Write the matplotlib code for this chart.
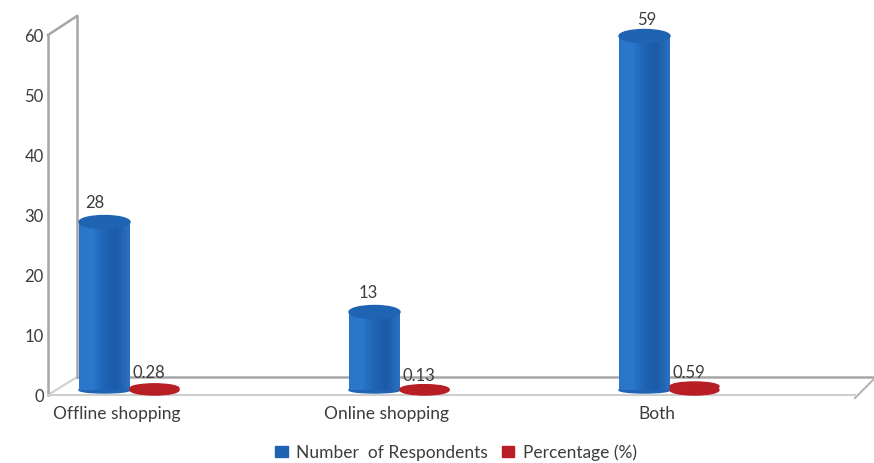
import numpy as np
import matplotlib
matplotlib.use('Agg')
import matplotlib.pyplot as plt
from matplotlib.lines import Line2D
from matplotlib.patches import Ellipse, Patch
from matplotlib.colors import LinearSegmentedColormap

plt.rcParams['font.family'] = ['Lato', 'DejaVu Sans']

categories = ['Offline shopping', 'Online shopping', 'Both']
respondents = [28, 13, 59]
percentage = [0.28, 0.13, 0.59]
respondents_label = 'Number  of Respondents'
percentage_label = 'Percentage (%)'
yticks = [0, 10, 20, 30, 40, 50, 60]

W, H = 874, 464
blue_map = LinearSegmentedColormap.from_list('b', ['#2b74c6', '#2a78cc', '#1f64b4', '#1b5aa6', '#2a70c0'])
red_map = LinearSegmentedColormap.from_list('r', ['#b8252a', '#c62026', '#a81a20', '#b8252a'])
TEXT = '#3c3c3c'
GRID = '#a6a6a6'
FLOOR = '#cfcfcf'

fig = plt.figure(figsize=(W/100, H/100), dpi=100, facecolor='white')
# front plane of the 3d box, 48..855 px across and 396..36 px down
ax = fig.add_axes([48/W, 1-396/H, (855-48)/W, 360/H])
ax.set_ylim(0, 60)
ax.set_xlim((48-117)/270, (855-117)/270)
ax.patch.set_alpha(0)
for s in ['top', 'right']:
	ax.spines[s].set_visible(False)
ax.spines['left'].set_color(GRID)
ax.spines['left'].set_linewidth(1.8)
ax.spines['bottom'].set_color(FLOOR)
ax.spines['bottom'].set_linewidth(1.5)
ax.set_yticks(yticks)
ax.set_xticks(range(len(categories)))
ax.set_xticklabels(categories)
ax.tick_params(axis='both', length=0, labelsize=12.5, labelcolor=TEXT)
ax.tick_params(axis='y', pad=3, labelsize=12)
ax.tick_params(axis='x', pad=7)

# wall and floor edges, given in axes fractions
def axfrac(px, py):
	return (px-48)/807, (396-py)/360

def box_line(p0, p1, color, lw):
	a, b = axfrac(*p0), axfrac(*p1)
	ax.add_line(Line2D([a[0], b[0]], [a[1], b[1]], transform=ax.transAxes, color=color, lw=lw, clip_on=False, zorder=1))

box_line((48, 36), (77, 17), GRID, 1.8)
box_line((77, 17), (77, 378), GRID, 1.8)
box_line((48, 396), (77, 378), FLOOR, 1.5)
box_line((77, 378), (874, 378), GRID, 1.8)
box_line((855, 399), (874, 380), '#b5b5b5', 1.5)

base = 5/6  # bars stand 5 px behind the front plane
unit_x = 1/270
unit_y = 1/6

def cylinder(x, value, width, cmap, rim, cap_px, bottom_px):
	n = 40
	xs = np.linspace(x-width/2, x+width/2, n, endpoint=False)+width/n/2
	ax.add_patch(Ellipse((x, base), width, bottom_px*unit_y, color=cmap(0.5), zorder=3, clip_on=False))
	for i, xi in enumerate(xs):
		c = cmap(i/(n-1))
		# strips overlap a little so no seam shows between them
		ax.bar(xi, value, width/n*1.6 if i < n-1 else width/n, bottom=base, color=c, linewidth=0, zorder=3, clip_on=False)
	ax.add_patch(Ellipse((x, base+value), width, cap_px*unit_y, color=rim, zorder=4, clip_on=False))

blue_w = 51*unit_x
red_w = 49*unit_x
for i in range(len(categories)):
	cylinder(i-12.5*unit_x, respondents[i], blue_w, blue_map, '#1f63b3', 13, 6)
	cylinder(i+37.5*unit_x, percentage[i], red_w, red_map, '#b81f24', 9, 10)

# data labels, nudged by hand like in the original
blue_offsets = [(-10, 20), (-6, 20), (2, 17)]
red_offsets = [(-6, 16), (-6, 14), (-6, 14)]
for i in range(len(categories)):
	ax.annotate(str(respondents[i]), (i-12.5*unit_x, base+respondents[i]), xytext=blue_offsets[i],
		textcoords='offset pixels', ha='center', va='center', fontsize=12, color=TEXT, zorder=5, annotation_clip=False)
	ax.annotate(str(percentage[i]), (i+37.5*unit_x, base+percentage[i]), xytext=red_offsets[i],
		textcoords='offset pixels', ha='center', va='center', fontsize=12, color=TEXT, zorder=5, annotation_clip=False)

handles = [Patch(color='#1f63b3', label=respondents_label), Patch(color='#b81f24', label=percentage_label)]
fig.legend(handles=handles, loc='center', bbox_to_anchor=(456/W, 1-453/H), ncol=2, frameon=False,
	fontsize=12.5, labelcolor=TEXT, handlelength=0.7, handleheight=0.6, handletextpad=0.5, columnspacing=0.8)

fig.savefig('out.png', dpi=100, facecolor='white')
